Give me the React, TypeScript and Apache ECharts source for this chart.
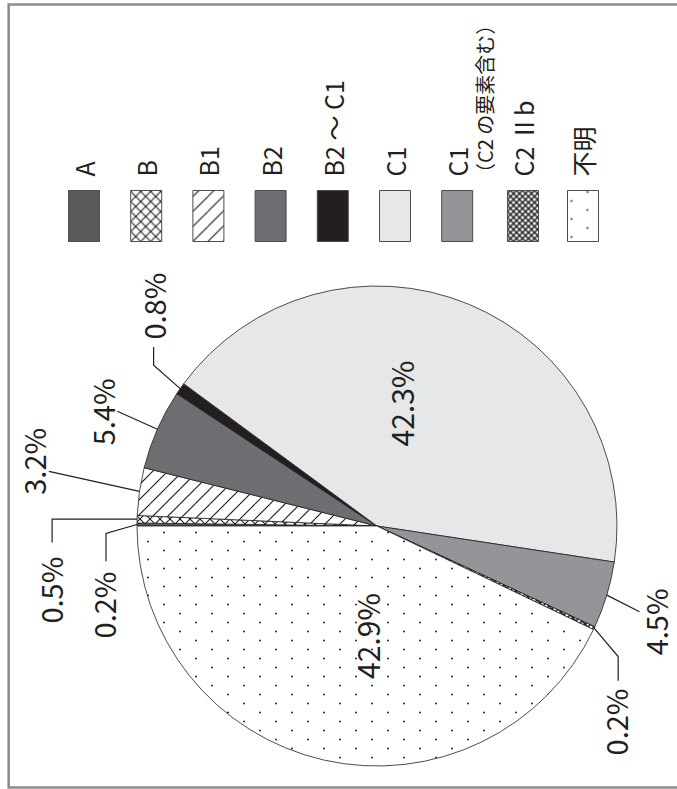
import React, { useEffect, useRef } from 'react';
import * as echarts from 'echarts';

// ---- data ----
const categories = ['A', 'B', 'B1', 'B2', 'B2 ～ C1', 'C1', 'C1（C2の要素含む）', 'C2 Ⅱb', '不明'];
const shares = [0.2, 0.5, 3.2, 5.4, 0.8, 42.3, 4.5, 0.2, 42.9];
const legendGroupA = categories.slice(0, 7);
const legendGroupB = categories.slice(7);
const legendNote = '（C2 の要素含む）';

// ---- layout (unrotated frame; the whole chart is turned 90° with CSS) ----
const W = 789;
const H = 677;
const CX = 263;
const CY = 377;
const R = 240;
const FONT = '"Noto Sans CJK JP", "Noto Sans", sans-serif';
const INK = '#231f20';

// outer label placements, relative to the slice edge point
const outerPlacement: Record<number, { line: number[][]; at: number[]; align: string }> = {
  0: { line: [[-9, -31], [-36.7, -31]], at: [-47, -34.3], align: 'right' },
  1: { line: [[0, -85], [-23.4, -85]], at: [-37.4, -86.7], align: 'right' },
  2: { line: [[20, -90.7], [20, -90.7]], at: [30.2, -107], align: 'center' },
  3: { line: [[18, -40], [18, -40]], at: [17.5, -55], align: 'center' },
  4: { line: [[23.3, -26.6], [41.7, -26.6]], at: [49, -26.8], align: 'left' },
  6: { line: [[-16.7, 32.7], [-16.7, 32.7]], at: [-26.7, 48], align: 'center' },
  7: { line: [[-28.3, 24], [-52.6, 24]], at: [-60.3, 20.7], align: 'right' },
};
// inner label placements, relative to the pie centre
const innerPlacement: Record<number, number[]> = {
  5: [122.5, 24],
  8: [-110, -10.5],
};

function makePattern(w: number, h: number, draw: (ctx: CanvasRenderingContext2D) => void) {
  const c = document.createElement('canvas');
  c.width = w;
  c.height = h;
  const ctx = c.getContext('2d')!;
  ctx.fillStyle = '#ffffff';
  ctx.fillRect(0, 0, w, h);
  draw(ctx);
  return { image: c, repeat: 'repeat', imageWidth: w, imageHeight: h } as any;
}

function crossHatch(w: number, lw: number) {
  return makePattern(w, w, (ctx) => {
    ctx.strokeStyle = INK;
    ctx.lineWidth = lw;
    for (let k = -1; k <= 1; k++) {
      ctx.beginPath();
      ctx.moveTo(k * w, 0);
      ctx.lineTo(k * w + w, w);
      ctx.stroke();
      ctx.beginPath();
      ctx.moveTo(k * w + w, 0);
      ctx.lineTo(k * w, w);
      ctx.stroke();
    }
  });
}

function hatch(w: number, lw: number) {
  return makePattern(w, w, (ctx) => {
    ctx.strokeStyle = INK;
    ctx.lineWidth = lw;
    for (let k = -1; k <= 1; k++) {
      ctx.beginPath();
      ctx.moveTo(k * w, 0);
      ctx.lineTo(k * w + w, w);
      ctx.stroke();
    }
  });
}

function dots() {
  return makePattern(18, 32, (ctx) => {
    ctx.fillStyle = INK;
    ctx.beginPath();
    ctx.arc(4.5, 4, 0.95, 0, Math.PI * 2);
    ctx.fill();
    ctx.beginPath();
    ctx.arc(13.5, 20, 0.95, 0, Math.PI * 2);
    ctx.fill();
  });
}

export default function App() {
  const ref = useRef<HTMLDivElement>(null);

  useEffect(() => {
    if (!ref.current) return;
    const chart = echarts.init(ref.current, null, { renderer: 'svg', width: W, height: H });

    const fills: any[] = [
      '#58595b',
      crossHatch(10, 1.1),
      hatch(15, 1.2),
      '#6d6e71',
      INK,
      '#e6e7e8',
      '#939598',
      crossHatch(6, 1.5),
      dots(),
    ];

    const data = categories.map((name, i) => {
      const inner = innerPlacement[i] != null;
      return {
        name,
        value: shares[i],
        itemStyle: { color: fills[i] },
        label: inner ? { position: 'inside', fontSize: 30 } : { position: 'outside' },
        labelLine: { show: !inner },
      };
    });

    const legendBase = {
      orient: 'vertical',
      left: 547,
      padding: 0,
      itemWidth: 51,
      itemHeight: 31,
      icon: 'rect',
      selectedMode: false,
      itemStyle: { borderColor: '#4d4d4f', borderWidth: 1 },
      textStyle: { fontFamily: FONT, fontSize: 25, color: INK, padding: [0, 0, 0, 9] },
      formatter: (name: string) => (name === categories[6] ? 'C1' : name),
    };

    chart.setOption({
      animation: false,
      backgroundColor: '#ffffff',
      textStyle: { fontFamily: FONT },
      legend: [
        { ...legendBase, top: 68, itemGap: 30.2, data: legendGroupA },
        { ...legendBase, top: 507, itemGap: 28, data: legendGroupB },
      ],
      graphic: [
        {
          type: 'rect',
          shape: { x: 1.5, y: 8.7, width: 783, height: 720 },
          style: { fill: 'none', stroke: '#8c8c8c', lineWidth: 2.6 },
          silent: true,
        },
        {
          type: 'text',
          x: 606,
          y: 484,
          style: {
            text: legendNote,
            fontFamily: FONT,
            fontSize: 20,
            fill: INK,
            align: 'left',
            verticalAlign: 'middle',
          },
          silent: true,
        },
      ],
      series: [
        {
          type: 'pie',
          center: [CX, CY],
          radius: R,
          startAngle: 90,
          clockwise: true,
          avoidLabelOverlap: false,
          minShowLabelAngle: 0,
          silent: true,
          itemStyle: { borderColor: INK, borderWidth: 0.8 },
          label: {
            show: true,
            fontFamily: FONT,
            fontSize: 29,
            color: INK,
            formatter: (p: any) => `${Number(p.value).toFixed(1)}%`,
          },
          labelLine: {
            show: true,
            length: 20,
            length2: 10,
            lineStyle: { color: INK, width: 1.2 },
          },
          labelLayout: (params: any) => {
            const i = params.dataIndex;
            const inner = innerPlacement[i];
            if (inner) {
              return { x: CX + inner[0], y: CY + inner[1], align: 'center', verticalAlign: 'middle' };
            }
            const o = outerPlacement[i];
            const pts = params.labelLinePoints;
            if (!o || !pts) return {};
            const e = pts[0];
            return {
              x: e[0] + o.at[0],
              y: e[1] + o.at[1],
              align: o.align,
              verticalAlign: 'middle',
              labelLinePoints: [[e[0], e[1]], ...o.line.map((p) => [e[0] + p[0], e[1] + p[1]])],
            };
          },
          data,
        },
      ],
    });

    return () => chart.dispose();
  }, []);

  return (
    <div
      style={{
        position: 'absolute',
        left: 0,
        top: 0,
        width: 677,
        height: 789,
        overflow: 'hidden',
        background: '#ffffff',
      }}
    >
      <div
        ref={ref}
        style={{
          position: 'absolute',
          left: 0,
          top: 0,
          width: W,
          height: H,
          transformOrigin: '0 0',
          transform: `translate(0px, ${W}px) rotate(-90deg)`,
        }}
      />
    </div>
  );
}
